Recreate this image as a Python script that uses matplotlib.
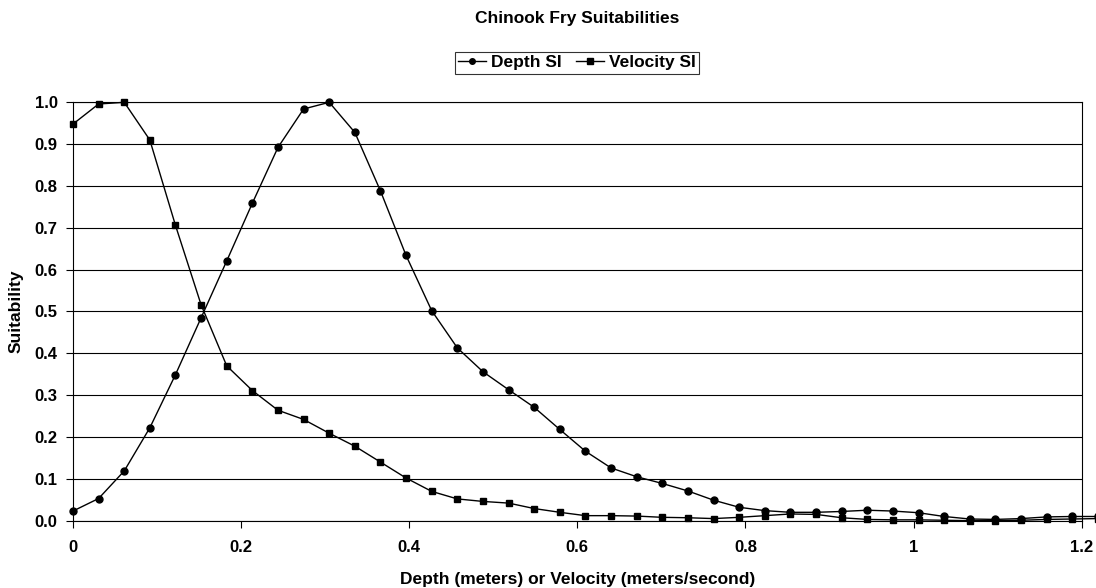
import matplotlib
matplotlib.use("Agg")
import matplotlib.pyplot as plt

plt.rcParams['font.family'] = ['Liberation Sans', 'DejaVu Sans']
plt.rcParams['font.weight'] = 'bold'

# x values: 0.1 ft steps converted to meters
x_m = [0.0, 0.0305, 0.061, 0.0914, 0.1219, 0.1524, 0.1829, 0.2134, 0.2438, 0.2743,
       0.3048, 0.3353, 0.3658, 0.3962, 0.4267, 0.4572, 0.4877, 0.5182, 0.5486, 0.5791,
       0.6096, 0.6401, 0.6706, 0.701, 0.7315, 0.762, 0.7925, 0.823, 0.8534, 0.8839,
       0.9144, 0.9449, 0.9754, 1.0058, 1.0363, 1.0668, 1.0973, 1.1278, 1.1582, 1.1887,
       1.2192]

depth_si = [0.023, 0.053, 0.119, 0.222, 0.349, 0.485, 0.621, 0.759, 0.892, 0.984,
            1.0, 0.928, 0.788, 0.634, 0.502, 0.413, 0.356, 0.313, 0.271, 0.218,
            0.166, 0.126, 0.105, 0.089, 0.071, 0.049, 0.032, 0.024, 0.020, 0.020,
            0.022, 0.025, 0.023, 0.019, 0.010, 0.004, 0.003, 0.005, 0.009, 0.010,
            0.010]

velocity_si = [0.948, 0.996, 1.0, 0.910, 0.706, 0.516, 0.370, 0.311, 0.264, 0.242,
               0.209, 0.178, 0.140, 0.102, 0.070, 0.052, 0.046, 0.042, 0.029, 0.020,
               0.012, 0.012, 0.011, 0.008, 0.007, 0.005, 0.008, 0.012, 0.016, 0.015,
               0.007, 0.003, 0.002, 0.002, 0.001, 0.0, 0.0, 0.001, 0.003, 0.004,
               0.005]

fig = plt.figure(figsize=(10.96, 5.88), dpi=100)
ax = fig.add_axes([0.0666, 0.1145, 0.9204, 0.7115])

ax.plot(x_m, depth_si, color='black', lw=1.0, marker='o', markersize=5,
        label='Depth SI', clip_on=False, zorder=3)
ax.plot(x_m, velocity_si, color='black', lw=1.0, marker='s', markersize=4.5,
        label='Velocity SI', clip_on=False, zorder=3)

ax.set_xlim(0, 1.2)
ax.set_ylim(0, 1.0)
ax.set_xticks([0, 0.2, 0.4, 0.6, 0.8, 1.0, 1.2])
ax.set_xticklabels(['0', '0.2', '0.4', '0.6', '0.8', '1', '1.2'])
ax.set_yticks([i / 10 for i in range(11)])
ax.set_yticklabels(['%.1f' % (i / 10) for i in range(11)])
ax.tick_params(labelsize=12, length=5, width=0.8, direction='out')
ax.tick_params(axis='x', pad=9)
ax.tick_params(axis='y', pad=6)
ax.yaxis.grid(True, color='black', lw=0.8)
ax.set_axisbelow(True)
for s in ax.spines.values():
    s.set_color('black')
    s.set_linewidth(0.8)

ax.set_xlabel('Depth (meters) or Velocity (meters/second)', fontsize=12.5,
              fontweight='bold', labelpad=12)
ax.set_ylabel('Suitability', fontsize=12.5, fontweight='bold', labelpad=8)

fig.text(0.5265, 0.968, 'Chinook Fry Suitabilities', ha='center', va='center',
         fontsize=12.5, fontweight='bold')

leg = fig.legend(loc='center', bbox_to_anchor=(0.5265, 0.893), ncol=2,
                 fontsize=12.5, frameon=True, fancybox=False, edgecolor='black',
                 handlelength=1.6, handletextpad=0.3, columnspacing=0.8,
                 borderpad=0.2, borderaxespad=0)
leg.get_frame().set_linewidth(0.8)
for h in leg.legend_handles:
    h.set_markersize(4)

fig.savefig('out.png', dpi=100)
